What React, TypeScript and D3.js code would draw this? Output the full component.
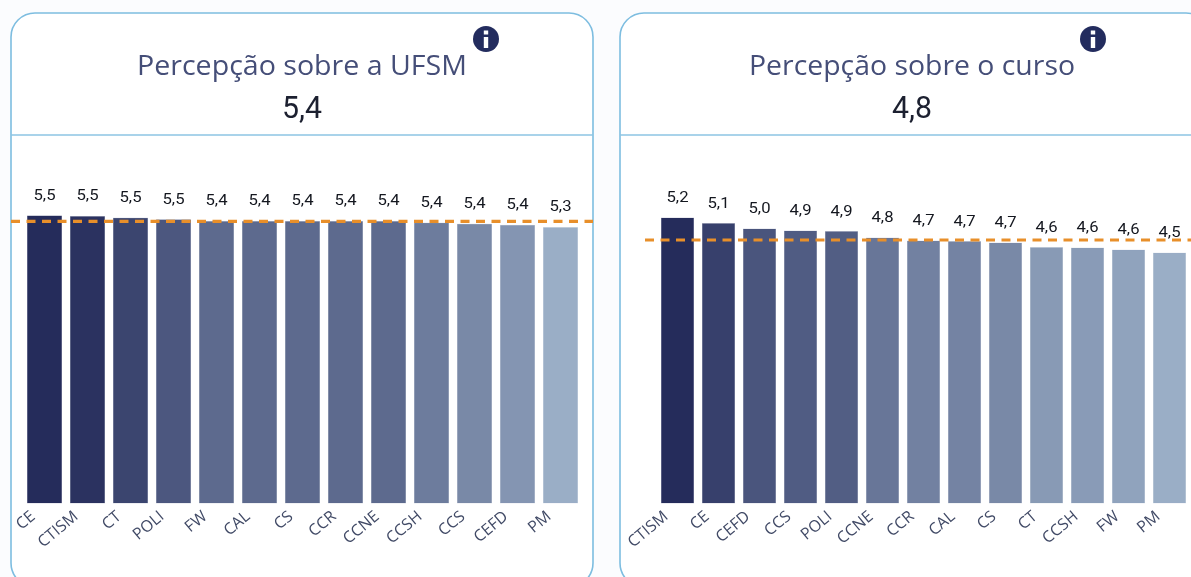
import React from "react";
import * as d3 from "d3";

const ufsmCategories = ["CE", "CTISM", "CT", "POLI", "FW", "CAL", "CS", "CCR", "CCNE", "CCSH", "CCS", "CEFD", "PM"];
const ufsmValues = [5.53, 5.52, 5.49, 5.46, 5.43, 5.43, 5.43, 5.43, 5.43, 5.4, 5.38, 5.36, 5.32];
const ufsmMean = 5.43;

const cursoCategories = ["CTISM", "CE", "CEFD", "CCS", "POLI", "CCNE", "CCR", "CAL", "CS", "CT", "CCSH", "FW", "PM"];
const cursoValues = [5.2, 5.09, 4.98, 4.94, 4.93, 4.8, 4.74, 4.73, 4.7, 4.61, 4.6, 4.56, 4.5];
const cursoMean = 4.76;

const comma = (v: number) => v.toFixed(1).replace(".", ",");

type PanelProps = {
  x: number; width: number; title: string; kpi: string; titleX: number; titleW: number; infoX: number;
  categories: string[]; values: number[]; mean: number;
  bandRange: [number, number]; padding: number; domain: [number, number]; lineStart: number;
};

function Panel(p: PanelProps) {
  const top = 13, sep = 135, base = 503, h = 574;
  const xs = d3.scaleBand<string>().domain(p.categories).range(p.bandRange).paddingInner(p.padding).paddingOuter(p.padding / 2);
  const ys = d3.scaleLinear().domain(p.domain).range([base, base - (p.domain[1] - p.domain[0]) * (p.domain[0] < 0 ? 50 : 55)]);
  const color = d3.scaleLinear<string>().domain([d3.min(p.values)!, d3.max(p.values)!]).range(["#9aaec6", "#252c5b"]);
  const my = ys(p.mean);
  return (
    <g>
      <rect x={p.x} y={top} width={p.width} height={h} rx={24} fill="#fff" stroke="#7dbde0" strokeWidth={1.6} />
      <line x1={p.x} x2={p.x + p.width} y1={sep} y2={sep} stroke="#8cc4e3" strokeWidth={1.6} />
      <text x={p.titleX} y={75} textAnchor="middle" fontFamily="'Open Sans'" fontSize={27.5} fill="#454e78" textLength={p.titleW} lengthAdjust="spacingAndGlyphs">{p.title}</text>
      <text x={p.titleX} y={118} textAnchor="middle" fontFamily="Roboto" fontSize={31} fontWeight={400} fill="#1c2030" textLength={40} lengthAdjust="spacingAndGlyphs">{p.kpi}</text>
      <circle cx={p.infoX} cy={39} r={13} fill="#232c5e" />
      <rect x={p.infoX - 2.2} y={37} width={4.4} height={11} fill="#fff" />
      <rect x={p.infoX - 2.2} y={30.5} width={4.4} height={4} fill="#fff" />
      {p.categories.map((c, i) => {
        const bx = xs(c)!, bw = xs.bandwidth(), v = p.values[i];
        const cx = bx + bw / 2;
        return (
          <g key={c}>
            <rect x={bx + 0.3} y={ys(v)} width={bw - 0.6} height={base - ys(v)} fill={color(v)} stroke={color(v)} strokeOpacity={0.3} strokeWidth={0.6} />
            <text x={cx} y={ys(v) - 16} textAnchor="middle" fontFamily="Roboto" fontSize={14.5} fill="#14171f" textLength={22} lengthAdjust="spacingAndGlyphs">{comma(v)}</text>
            <text transform={`translate(${cx - 8.5},518) rotate(-40)`} textAnchor="end" fontFamily="'Open Sans'" fontSize={16} fill="#414a66">{c}</text>
          </g>
        );
      })}
      <line x1={p.lineStart} x2={p.x + p.width} y1={my} y2={my} stroke="#e88f2a" strokeWidth={3.2} strokeDasharray="9 6.5" />
    </g>
  );
}

export default function App() {
  return (
    <svg width={1191} height={577} style={{ position: "absolute", left: 0, top: 0, filter: "blur(0.45px)", background: "#fbfcfe" }}>
      <Panel x={11} width={582} title="Percepção sobre a UFSM" kpi="5,4" titleX={302} titleW={330} infoX={486}
        categories={ufsmCategories} values={ufsmValues} mean={ufsmMean}
        bandRange={[23, 582]} padding={0.186} domain={[0.31, 6]} lineStart={11} />
      <Panel x={620} width={590} title="Percepção sobre o curso" kpi="4,8" titleX={912} titleW={326} infoX={1093}
        categories={cursoCategories} values={cursoValues} mean={cursoMean}
        bandRange={[657, 1190]} padding={0.195} domain={[-0.5, 6]} lineStart={645} />
    </svg>
  );
}
